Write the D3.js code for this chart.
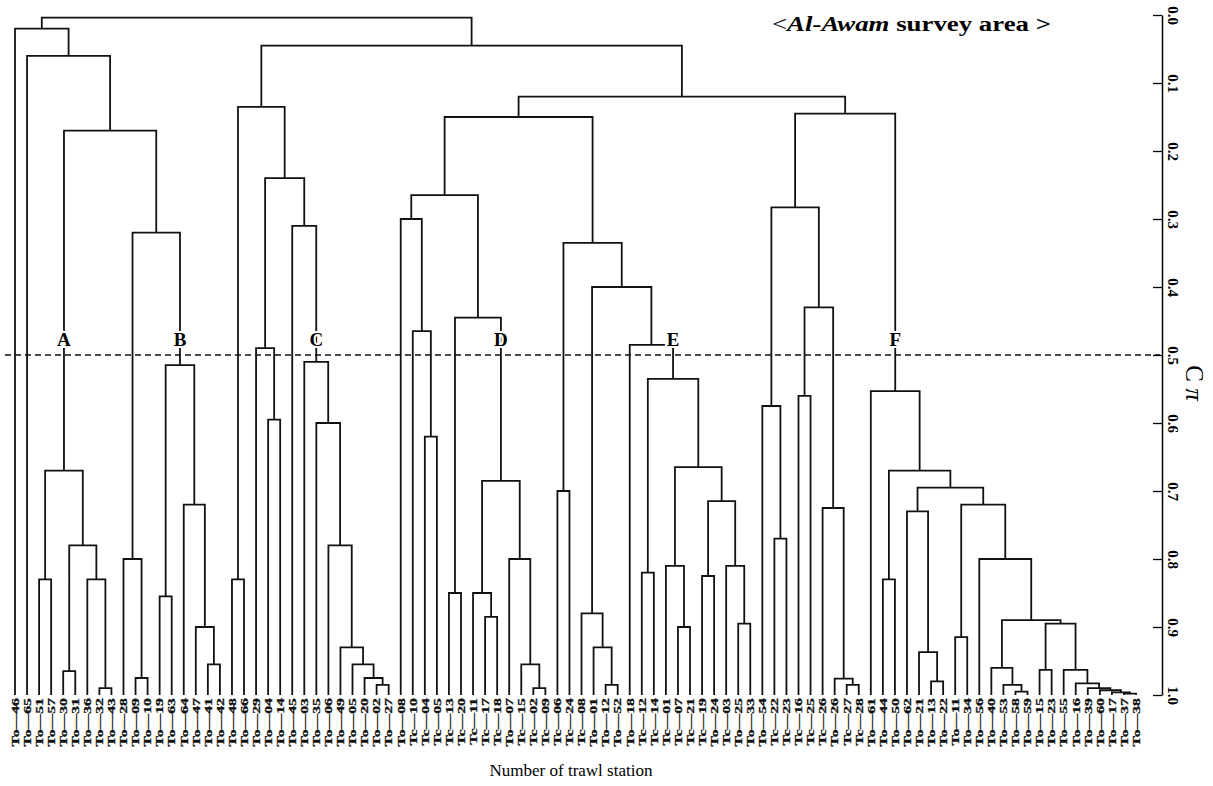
<!DOCTYPE html>
<html>
<head>
<meta charset="utf-8">
<script src="https://cdn.jsdelivr.net/npm/d3@7"></script>
<style>
  body { margin: 0; background: #fff; }
  text { font-family: "Liberation Serif", "DejaVu Serif", serif; }
</style>
</head>
<body>
<div id="chart"></div>
<script>
// leaf order, left to right
const stations = [
  "To-46","To-65","To-51","To-57","To-30","To-31","To-36","To-32","To-43","To-28",
  "To-09","To-10","To-19","To-63","To-64","To-47","To-41","To-42","To-48","To-66",
  "To-29","To-04","To-14","To-45","To-03","To-35","To-06","To-49","To-05","To-20",
  "To-02","To-27","To-08","Tc-10","Tc-04","Tc-05","Tc-13","Tc-20","Tc-11","Tc-17",
  "Tc-18","To-07","Tc-15","Tc-02","Tc-09","Tc-06","Tc-24","Tc-08","To-01","To-12",
  "To-52","To-18","Tc-12","Tc-14","Tc-01","Tc-07","Tc-21","Tc-19","To-24","Tc-03",
  "To-25","To-33","To-54","Tc-22","Tc-23","Tc-16","Tc-25","Tc-26","To-26","Tc-27",
  "Tc-28","To-61","To-44","To-50","To-62","To-21","To-13","To-22","To-11","To-34",
  "To-56","To-40","To-53","To-58","To-59","To-15","To-23","To-55","To-16","To-39",
  "To-60","To-17","To-37","To-38"
];

// merges: [cluster id, left child, right child, C-pi level]
const merges = [
  ["a1","To-32","To-43",0.99],
  ["a2","To-36","a1",0.83],
  ["a3","To-30","To-31",0.965],
  ["a4","a3","a2",0.78],
  ["a5","To-51","To-57",0.83],
  ["A","a5","a4",0.67],
  ["b1","To-09","To-10",0.975],
  ["b2","To-28","b1",0.80],
  ["b3","To-41","To-42",0.955],
  ["b4","To-47","b3",0.90],
  ["b5","To-64","b4",0.72],
  ["b6","To-19","To-63",0.855],
  ["B","b6","b5",0.515],
  ["x1","b2","B",0.32],
  ["l2","A","x1",0.17],
  ["l1","To-65","l2",0.06],
  ["L","To-46","l1",0.02],

  ["c1","To-48","To-66",0.83],
  ["c2","To-04","To-14",0.595],
  ["c3","To-29","c2",0.49],
  ["c4","To-02","To-27",0.985],
  ["c5","To-20","c4",0.975],
  ["c6","To-05","c5",0.955],
  ["c7","To-49","c6",0.93],
  ["c8","To-06","c7",0.78],
  ["c9","To-35","c8",0.60],
  ["C","To-03","c9",0.51],
  ["c10","To-45","C",0.31],
  ["c11","c3","c10",0.24],
  ["CC","c1","c11",0.135],

  ["d1","Tc-04","Tc-05",0.62],
  ["d2","Tc-10","d1",0.465],
  ["d3","To-08","d2",0.30],
  ["d4","Tc-13","Tc-20",0.85],
  ["d5","Tc-17","Tc-18",0.885],
  ["d6","Tc-11","d5",0.85],
  ["d7","Tc-02","Tc-09",0.99],
  ["d8","Tc-15","d7",0.955],
  ["d9","To-07","d8",0.80],
  ["D","d6","d9",0.685],
  ["d10","d4","D",0.445],
  ["DD","d3","d10",0.265],

  ["e1","Tc-06","Tc-24",0.70],
  ["e2","To-12","To-52",0.985],
  ["e3","To-01","e2",0.93],
  ["e4","Tc-08","e3",0.88],
  ["e5","Tc-12","Tc-14",0.82],
  ["e6","Tc-07","Tc-21",0.90],
  ["e7","Tc-01","e6",0.81],
  ["e8","Tc-19","To-24",0.825],
  ["e9","To-25","To-33",0.895],
  ["e10","Tc-03","e9",0.81],
  ["e11","e8","e10",0.715],
  ["e12","e7","e11",0.665],
  ["E","e5","e12",0.535],
  ["e13","To-18","E",0.485],
  ["e14","e4","e13",0.40],
  ["EE","e1","e14",0.335],
  ["DE","DD","EE",0.15],

  ["g1","Tc-22","Tc-23",0.77],
  ["g2","To-54","g1",0.575],
  ["g3","Tc-16","Tc-25",0.56],
  ["g4","Tc-27","Tc-28",0.985],
  ["g5","To-26","g4",0.976],
  ["g6","Tc-26","g5",0.725],
  ["g7","g3","g6",0.43],
  ["G","g2","g7",0.283],

  ["f1","To-44","To-50",0.83],
  ["f2","To-13","To-22",0.98],
  ["f3","To-21","f2",0.937],
  ["f20","To-62","f3",0.73],
  ["f4","To-11","To-34",0.915],
  ["f5","To-58","To-59",0.995],
  ["f6","To-53","f5",0.985],
  ["f7","To-40","f6",0.96],
  ["f8","To-15","To-23",0.963],
  ["f9","To-37","To-38",0.998],
  ["f10","To-17","f9",0.996],
  ["f11","To-60","f10",0.993],
  ["f12","To-39","f11",0.99],
  ["f13","To-16","f12",0.983],
  ["f14","To-55","f13",0.963],
  ["f15","f8","f14",0.895],
  ["f16","f7","f15",0.89],
  ["f17","To-56","f16",0.80],
  ["f18","f4","f17",0.72],
  ["f19","f20","f18",0.695],
  ["f21","f1","f19",0.67],
  ["F","To-61","f21",0.553],
  ["FF","G","F",0.145],
  ["R2","DE","FF",0.12],
  ["R","CC","R2",0.045],
  ["root","L","R",0.004]
];

const axisTicks = [0, 0.1, 0.2, 0.3, 0.4, 0.5, 0.6, 0.7, 0.8, 0.9, 1.0];
const groupNames = ["A","B","C","D","E","F"];
const cutLevel = 0.5;

const W = 1213, H = 786;
const svg = d3.select("#chart").append("svg")
    .attr("width", W).attr("height", H);

const x = d3.scalePoint().domain(stations).range([15, 1136]);
const y = d3.scaleLinear().domain([0, 1]).range([15, 695]);

// build the nested tree from the merge list
const nodes = {};
stations.forEach(s => { nodes[s] = {name: s, h: 1}; });
merges.forEach(m => {
    nodes[m[0]] = {name: m[0], h: m[3], children: [nodes[m[1]], nodes[m[2]]]};
});
const root = d3.hierarchy(nodes["root"]);
root.eachAfter(d => {
    d.px = d.children ? (d.children[0].px + d.children[1].px) / 2 : x(d.data.name);
});

// cut line
svg.append("line")
    .attr("x1", 5).attr("x2", 1160)
    .attr("y1", y(cutLevel)).attr("y2", y(cutLevel))
    .attr("stroke", "#111").attr("stroke-width", 1.3)
    .attr("stroke-dasharray", "6,4");

// elbows
svg.append("g").selectAll("path")
    .data(root.descendants().filter(d => d.children))
    .join("path")
    .attr("fill", "none")
    .attr("stroke", "#111")
    .attr("stroke-width", 1.8)
    .attr("d", d => {
        const [a, b] = d.children;
        return "M" + a.px + "," + y(a.data.h) + "V" + y(d.data.h) +
               "H" + b.px + "V" + y(b.data.h);
    });

// station labels
svg.append("g").selectAll("text")
    .data(stations)
    .join("text")
    .attr("transform", d => "translate(" + (x(d) + 3.8) + ",698) rotate(-90) scale(1.5,1)")
    .attr("text-anchor", "end")
    .attr("font-size", 10.5)
    .attr("font-weight", "bold")
    .attr("fill", "#111")
    .attr("stroke", "#111").attr("stroke-width", 0.3)
    .text(d => d.replace("-", "\u2014"));

// group letters
const byName = {};
root.descendants().forEach(d => { byName[d.data.name] = d; });
svg.append("g").selectAll("text")
    .data(groupNames)
    .join("text")
    .attr("x", d => byName[d].px)
    .attr("y", y(cutLevel) - 9)
    .attr("text-anchor", "middle")
    .attr("font-size", 19)
    .attr("font-weight", "bold")
    .attr("stroke", "#fff").attr("stroke-width", 4)
    .attr("paint-order", "stroke")
    .text(d => d);

// right axis
const axis = svg.append("g")
    .attr("transform", "translate(1162,0)")
    .call(d3.axisRight(y).tickValues(axisTicks)
        .tickSizeInner(-9).tickSizeOuter(0)
        .tickFormat(d3.format(".1f")));
axis.select(".domain").attr("stroke-width", 1.5);
axis.selectAll(".tick line").attr("stroke-width", 1.3);
axis.selectAll(".tick text")
    .attr("x", 0).attr("y", -6).attr("dy", 0)
    .attr("text-anchor", "middle")
    .attr("transform", "rotate(90)")
    .attr("font-family", "Liberation Serif")
    .attr("font-weight", "bold")
    .attr("font-size", 15);

const cpi = svg.append("text")
    .attr("transform", "translate(1186," + (y(cutLevel) + 28) + ") rotate(90)")
    .attr("text-anchor", "middle")
    .attr("font-size", 25);
cpi.append("tspan").text("C ");
cpi.append("tspan").attr("font-style", "italic").text("\u03c0");

// title
const title = svg.append("text")
    .attr("transform", "translate(772,31) scale(1.22,1)")
    .attr("font-size", 22);
title.append("tspan").text("<");
title.append("tspan").attr("font-weight", "bold").attr("font-style", "italic").text("Al-Awam");
title.append("tspan").attr("font-weight", "bold").text(" survey area >");

svg.append("text")
    .attr("x", 571).attr("y", 776)
    .attr("text-anchor", "middle")
    .attr("font-size", 17)
    .text("Number of trawl station");
</script>
</body>
</html>
